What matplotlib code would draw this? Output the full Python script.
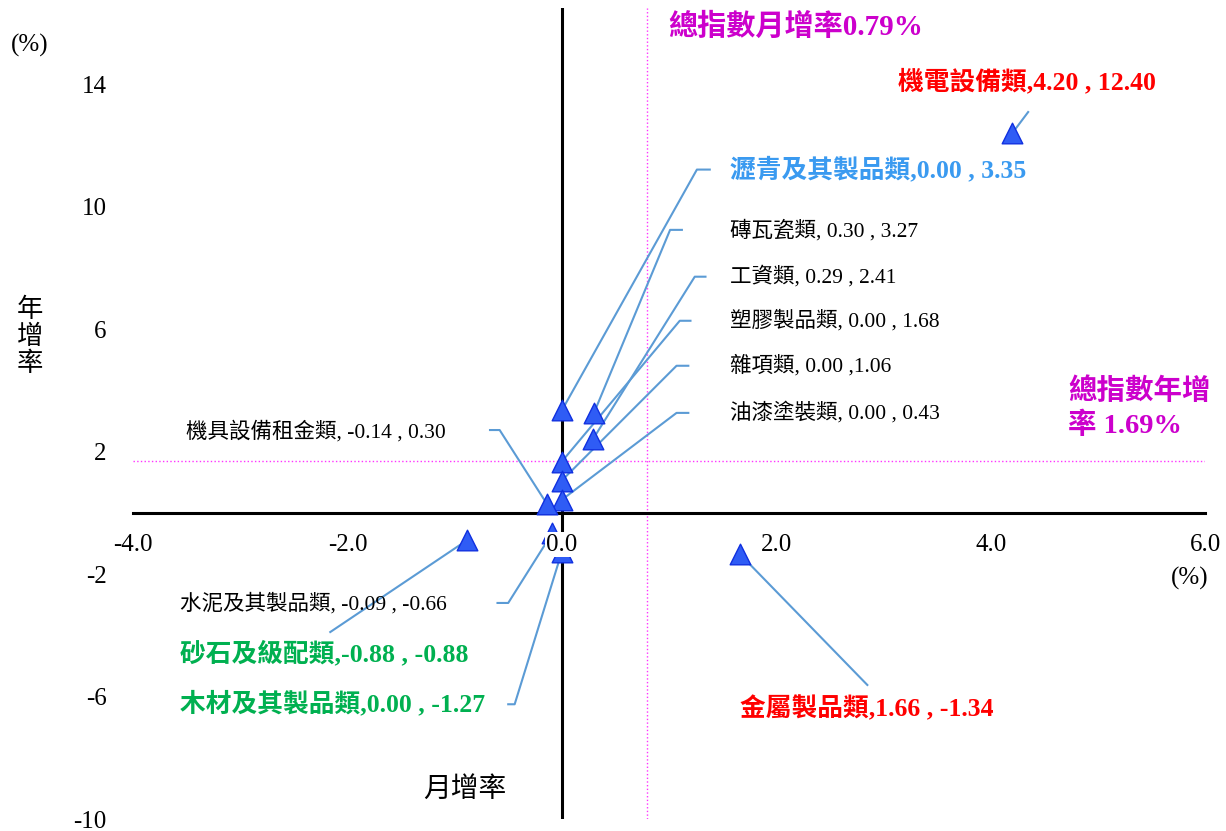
import matplotlib.pyplot as plt

plt.rcParams['font.family'] = ['Liberation Serif', 'Noto Sans CJK TC']
plt.rcParams['axes.unicode_minus'] = False

# 各類指數: 月增率 / 年增率 (%)
names = ['機電設備類', '瀝青及其製品類', '磚瓦瓷類', '工資類', '塑膠製品類', '雜項類',
         '油漆塗裝類', '機具設備租金類', '水泥及其製品類', '砂石及級配類',
         '木材及其製品類', '金屬製品類']
month_rate = [4.20, 0.00, 0.30, 0.29, 0.00, 0.00, 0.00, -0.14, -0.09, -0.88, 0.00, 1.66]
year_rate = [12.40, 3.35, 3.27, 2.41, 1.68, 1.06, 0.43, 0.30, -0.66, -0.88, -1.27, -1.34]
labels = ['機電設備類,4.20 , 12.40', '瀝青及其製品類,0.00 , 3.35', '磚瓦瓷類, 0.30 , 3.27',
          '工資類, 0.29 , 2.41', '塑膠製品類, 0.00 , 1.68', '雜項類, 0.00 ,1.06',
          '油漆塗裝類, 0.00 , 0.43', '機具設備租金類, -0.14 , 0.30',
          '水泥及其製品類, -0.09 , -0.66', '砂石及級配類,-0.88 , -0.88',
          '木材及其製品類,0.00 , -1.27', '金屬製品類,1.66 , -1.34']
total_month = 0.79
total_year = 1.69

x_ticks = [-4, -2, 0, 2, 4, 6]
y_ticks = [-10, -6, -2, 2, 6, 10, 14]

RED = '#FF0000'
BLUE = '#3A9AF0'
GREEN = '#00B050'
label_colors = [RED, BLUE, 'black', 'black', 'black', 'black', 'black', 'black', 'black',
                GREEN, GREEN, RED]

# label layout (data coords): text anchor, leader vertices after the point
text_pos = [(4.34, 14.09), (1.57, 11.22), (1.57, 9.22), (1.57, 7.72), (1.57, 6.28),
            (1.57, 4.81), (1.57, 3.27), (-3.51, 2.65), (-3.56, -2.98), (-3.56, -4.58),
            (-3.56, -6.21), (1.66, -6.38)]
leaders = [[(4.35, 13.1)],
           [(1.26, 11.22), (1.38, 11.22)],
           [(1.01, 9.25), (1.12, 9.25)],
           [(1.24, 7.72), (1.34, 7.72)],
           [(1.10, 6.28), (1.20, 6.28)],
           [(1.07, 4.81), (1.18, 4.81)],
           [(1.07, 3.27), (1.18, 3.27)],
           [(-0.58, 2.71), (-0.67, 2.71)],
           [(-0.50, -2.94), (-0.60, -2.94)],
           [(-2.16, -3.89)],
           [(-0.44, -6.25), (-0.50, -6.25)],
           [(2.85, -5.62)]]

fig = plt.figure(figsize=(12.26, 8.31), dpi=100)
ax = fig.add_axes([0.1085, 0.0144, 0.8744, 0.976])
ax.set_xlim(-4, 6)
ax.set_ylim(-10, 16.5)

for s in ['top', 'right', 'left']:
    ax.spines[s].set_visible(False)
ax.spines['bottom'].set_position(('data', 0))
ax.spines['bottom'].set_linewidth(2.2)
ax.axvline(0, color='black', lw=2.2, zorder=2.5)

ax.set_xticks(x_ticks)
ax.set_xticklabels([f'{v:.1f}' for v in x_ticks])
ax.set_yticks(y_ticks)
ax.tick_params(axis='x', length=0, pad=15, labelsize=18)
ax.tick_params(axis='y', length=0, pad=19, labelsize=18)
for lab in ax.get_xticklabels():
    lab.set_bbox(dict(facecolor='white', edgecolor='none', pad=1))
ax.xaxis.set_zorder(5)

# 總指數 reference lines
ax.axvline(total_month, color='#FF33FF', lw=1, ls=':', zorder=1)
ax.axhline(total_year, color='#FF33FF', lw=1, ls=':', zorder=1)

# leader lines
for i in range(len(names)):
    xs = [month_rate[i]] + [p[0] for p in leaders[i]]
    ys = [year_rate[i]] + [p[1] for p in leaders[i]]
    ax.plot(xs, ys, color='#5B9BD5', lw=1.5, zorder=2)

ax.scatter(month_rate, year_rate, marker='^', s=220, facecolor='#2F5CF5',
           edgecolor='#1030E0', linewidth=1, zorder=3)

for i in range(len(names)):
    c = label_colors[i]
    bold = c != 'black'
    ha = 'center' if i == 0 else 'left'
    ax.text(text_pos[i][0], text_pos[i][1], labels[i], color=c, ha=ha, va='center',
            fontsize=18.5 if bold else 15.5, fontweight='bold' if bold else 'normal',
            zorder=6)

ax.text(0.99, 15.89, f'總指數月增率{total_month:.2f}%', color='#CC00CC', fontsize=21,
        fontweight='bold', ha='left', va='center')
ax.text(4.72, 3.43, f'總指數年增\n率 {total_year:.2f}%', color='#CC00CC', fontsize=20.5,
        fontweight='bold', ha='left', va='center', linespacing=1.3)

# axis titles
fig.text(30 / 1226, 1 - 45 / 831, '(%)', fontsize=18, ha='center', va='center')
fig.text(30 / 1226, 1 - 337 / 831, '年\n增\n率', fontsize=19, ha='center', va='center',
         linespacing=1.15)
fig.text(465 / 1226, 1 - 790 / 831, '月增率', fontsize=20, ha='center', va='center')
fig.text(1190 / 1226, 1 - 578 / 831, '(%)', fontsize=18, ha='center', va='center')

fig.savefig('out.png', dpi=100)
